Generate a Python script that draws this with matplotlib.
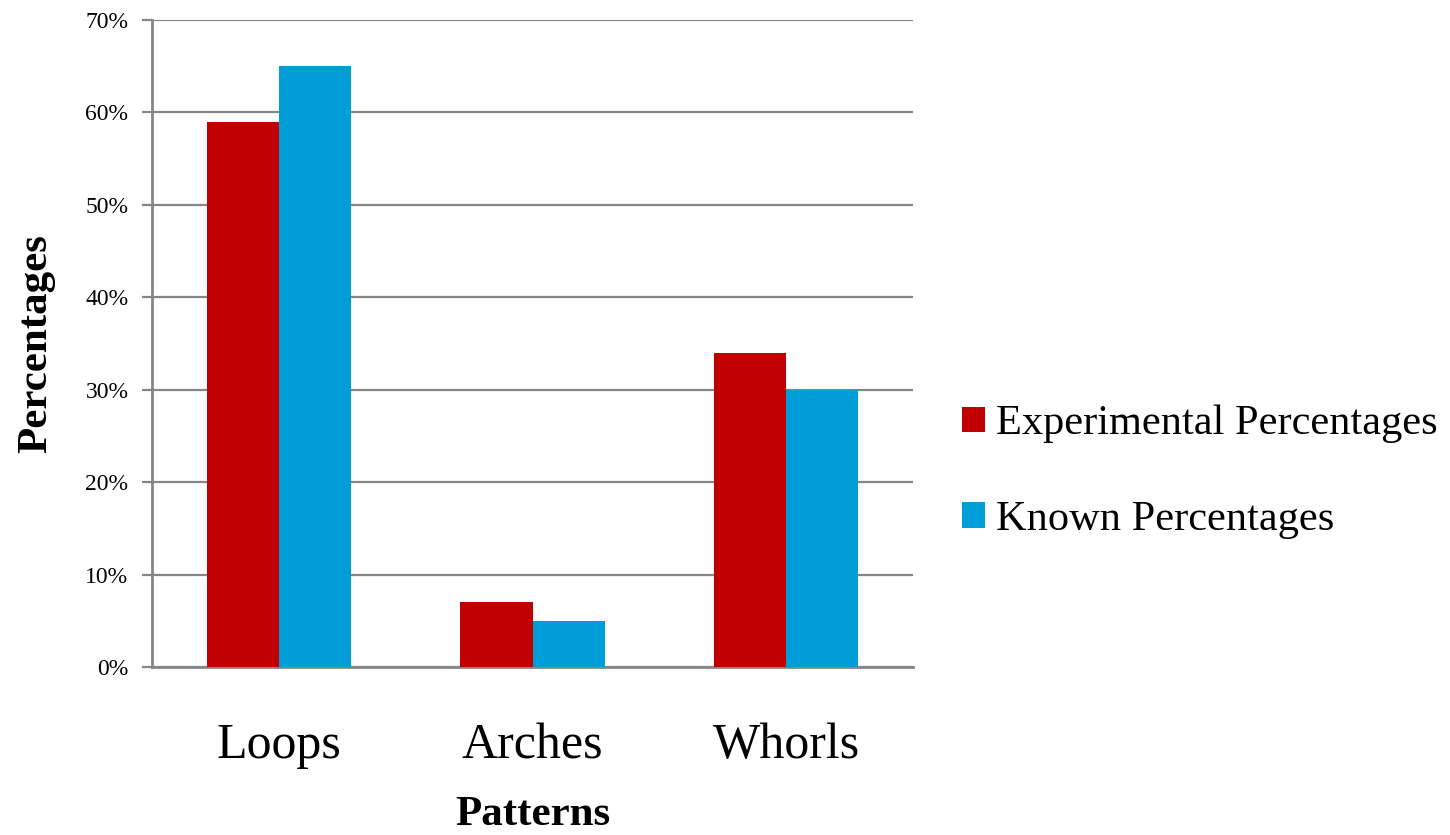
import numpy as np
import matplotlib
matplotlib.use("Agg")
import matplotlib.pyplot as plt
from matplotlib.ticker import FuncFormatter

# === dados ===
patterns = ["Loops", "Arches", "Whorls"]
experimental = [59, 7, 34]
known = [65, 5, 30]
series_names = ["Experimental Percentages", "Known Percentages"]
colors = ["#C00000", "#009DD9"]

grid_color = "#868686"

fig = plt.figure(figsize=(14.5, 8.35), dpi=100)
fig.patch.set_facecolor("white")
ax = fig.add_axes([152 / 1450, 1 - 667 / 835, 761 / 1450, 647 / 835])

x = np.arange(len(patterns))
w = 0.285
b1 = ax.bar(x - w / 2, experimental, w, color=colors[0], label=series_names[0], zorder=3)
b2 = ax.bar(x + w / 2, known, w, color=colors[1], label=series_names[1], zorder=3)

ax.set_xlim(-0.5, 2.5)
ax.set_ylim(0, 70)
ax.set_yticks(np.arange(0, 71, 10))
ax.yaxis.set_major_formatter(FuncFormatter(lambda v, p: f"{int(v)}%"))
ax.grid(axis="y", color=grid_color, linewidth=1.6, zorder=0)
ax.set_axisbelow(True)

for s in ["top", "right"]:
    ax.spines[s].set_visible(False)
for s in ["left", "bottom"]:
    ax.spines[s].set_color(grid_color)
    ax.spines[s].set_linewidth(2)

ax.tick_params(axis="y", direction="out", length=7, width=1.6, color=grid_color,
               labelsize=17, pad=10)
ax.tick_params(axis="x", length=0, labelsize=36, pad=40)
for lbl in ax.get_yticklabels():
    lbl.set_family("Liberation Serif")
ax.set_xticks(x)
ax.set_xticklabels(patterns, family="Liberation Serif")

ax.set_ylabel("Percentages", family="Liberation Serif", fontweight="bold", fontsize=31)
ax.yaxis.set_label_coords(-0.127, 0.5)
ax.set_xlabel("Patterns", family="Liberation Serif", fontweight="bold", fontsize=31)
ax.xaxis.set_label_coords(0.5, -0.2)

fig.legend(handles=[b1, b2], loc="center left",
           bbox_to_anchor=(962 / 1450, 1 - 472 / 835),
           frameon=False, prop={"family": "Liberation Serif", "size": 30.5},
           handlelength=0.55, handleheight=0.55, handletextpad=0.25,
           labelspacing=1.35, borderpad=0, borderaxespad=0)

fig.savefig("out.png", dpi=100)
